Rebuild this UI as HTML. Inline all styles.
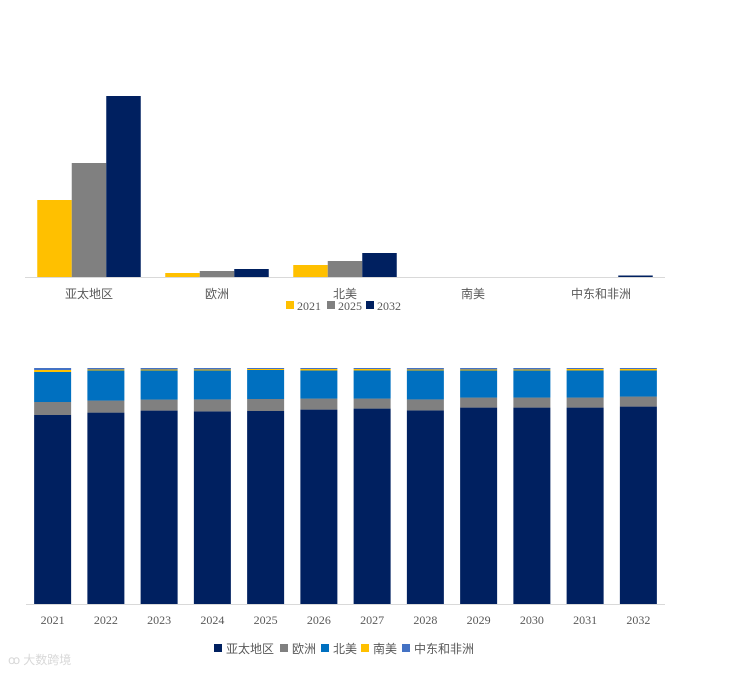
<!DOCTYPE html>
<html><head><meta charset="utf-8"><style>
body{margin:0;background:#fff;width:739px;height:673px;overflow:hidden;font-family:"Liberation Serif","Noto Sans CJK SC",serif;}
svg text{font-family:"Liberation Serif","Noto Sans CJK SC",serif;fill:#595959;font-size:12px;}
</style></head><body>
<svg id="c" width="739" height="673"></svg>
<script>
const regions=["亚太地区","欧洲","北美","南美","中东和非洲"];
const years1=["2021","2025","2032"];
const v2021=[77,4,12,0,0];
const v2025=[114,6,16,0,0];
const v2032=[181,8,24,0,1.5];
const years2=["2021","2022","2023","2024","2025","2026","2027","2028","2029","2030","2031","2032"];
const sApac=[189,191,193,193,193,194,195,194,196,196,196,197];
const sEur=[13,12,11,12,12,11,10,11,10,10,10,10];
const sNa=[30,30,29,29,29,28,28,29,27,27,27,26];
const sSa=[2,1,1,1,1,1.5,1.5,1,1,1,1.5,1.5];
const sMea=[2,1.5,1.5,1.5,1,1,1,1.5,1.5,1.5,1,1];
const svg=document.getElementById('c');const NS="http://www.w3.org/2000/svg";
function mk(t,a,txt){const e=document.createElementNS(NS,t);for(const k in a)e.setAttribute(k,a[k]);if(txt!==undefined)e.textContent=txt;svg.appendChild(e);return e;}
// top chart
const base1=277,x0=25,x1=665,catW=(x1-x0)/regions.length,bw=34.5;
const y1=v=>base1-v;
const cols1=["#FFC000","#808080","#002060"];const ser1=[v2021,v2025,v2032];
ser1.forEach((s,si)=>s.forEach((v,i)=>{const cx=x0+catW*(i+0.5);
const r=mk('rect',{x:cx-bw*1.5+si*bw,y:y1(v),width:bw,height:base1-y1(v),fill:cols1[si]});

}));
let l=mk('line',{x1:x0,x2:x1,y1:base1+0.5,y2:base1+0.5,stroke:'#d9d9d9'});

regions.forEach((r,i)=>{const t=mk('text',{x:x0+catW*(i+0.5),y:298,'text-anchor':'middle'},r);
});
let lx=[286,327,366];
years1.forEach((y,i)=>{const g=mk('rect',{x:lx[i],y:301,width:8,height:8,fill:cols1[i]});

const t=mk('text',{x:lx[i]+11,y:310,'font-size':'11'},y);
});
// bottom chart
const top2=368,base2=604,H=base2-top2,bx0=26,bx1=665,step=(bx1-bx0)/years2.length,bw2=37;
const cols2=["#002060","#808080","#0070C0","#FFC000","#4472C4"];
const ser2=[sApac,sEur,sNa,sSa,sMea];
years2.forEach((yr,i)=>{const tot=ser2.reduce((a,s)=>a+s[i],0);let acc=0;const cx=bx0+step*(i+0.5);
ser2.forEach((s,si)=>{const h=s[i]/tot*H;const r=mk('rect',{x:cx-bw2/2,y:base2-acc-h,width:bw2,height:h,fill:cols2[si]});
acc+=h;});
const t=mk('text',{x:cx,y:624,'text-anchor':'middle'},yr);
});
l=mk('line',{x1:bx0,x2:bx1,y1:base2+0.5,y2:base2+0.5,stroke:'#d9d9d9'});

const lx2=[214,280,321,361,402];
regions.forEach((r,i)=>{const g=mk('rect',{x:lx2[i],y:644,width:8,height:8,fill:cols2[i]});

const t=mk('text',{x:lx2[i]+12,y:653},r);
});
const w=mk('text',{x:8,y:664,'font-size':'15',style:'fill:#d8d8d8'},"ꝏ 大数跨境");

</script>
</body></html>
